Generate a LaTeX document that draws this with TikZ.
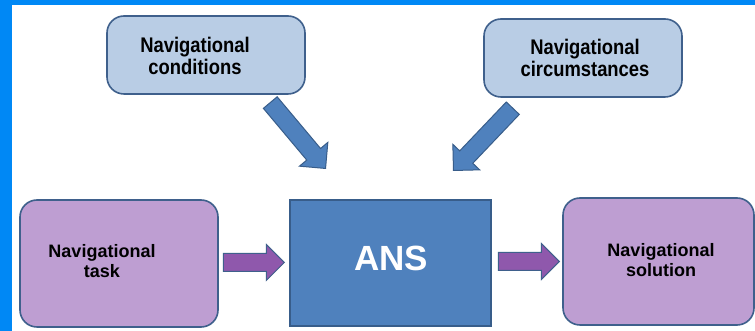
\documentclass[tikz,border=0pt]{standalone}
\usepackage{fontspec}
\setmainfont{Liberation Sans}
\usetikzlibrary{shapes.arrows}
\definecolor{frameblue}{RGB}{0,136,245}
\definecolor{lightfill}{RGB}{185,205,229}
\definecolor{purplefill}{RGB}{190,158,210}
\definecolor{boxline}{RGB}{63,96,140}
\definecolor{ansfill}{RGB}{79,129,189}
\definecolor{ansline}{RGB}{56,93,138}
\definecolor{parrow}{RGB}{143,88,172}
\tikzset{
  lightbox/.style={draw=boxline, line width=1.6pt, fill=lightfill, rounded corners=17pt, inner sep=0pt},
  purplebox/.style={draw=boxline, line width=1.6pt, fill=purplefill, rounded corners=17pt, inner sep=0pt},
  ansbox/.style={draw=ansline, line width=1.4pt, fill=ansfill, inner sep=0pt},
  toptext/.style={font=\bfseries\fontsize{18.4}{18.6}\selectfont, align=center, yscale=1.15, transform shape, inner sep=0pt},
  bottext/.style={font=\bfseries\fontsize{18}{20}\selectfont, align=center, inner sep=0pt},
  purplearrow/.style={single arrow, draw=boxline, line width=1pt, fill=parrow, inner xsep=0pt, inner ysep=8.5pt,
    single arrow head extend=9pt, minimum height=61pt, single arrow tip angle=90, anchor=tip},
  bluearrow/.style={single arrow, draw=ansline, line width=1pt, fill=ansfill, inner xsep=0pt, inner ysep=8.5pt,
    single arrow head extend=9.5pt, minimum height=86pt, single arrow tip angle=90, anchor=tip}
}
\begin{document}
\begin{tikzpicture}[x=1pt,y=1pt]
\useasboundingbox (0,0) rectangle (755,331);
\fill[white] (0,0) rectangle (755,331);
\fill[frameblue] (0,326) rectangle (755,331);
\fill[frameblue] (0,0) rectangle (12,331);

\node[lightbox, minimum width=198pt, minimum height=78pt] (cond) at (206,276) {};
\node[toptext] (condt) at (195,275) {Navigational\\conditions};

\node[lightbox, minimum width=198pt, minimum height=78pt] (circ) at (583,273) {};
\node[toptext] (circt) at (585,273) {Navigational\\circumstances};

\node[purplebox, minimum width=198pt, minimum height=127pt] (task) at (119,67.5) {};
\node[bottext] (taskt) at (102,70) {Navigational\\task};

\node[ansbox, minimum width=201pt, minimum height=126pt] (ans) at (390.5,68) {};
\node[font=\bfseries\fontsize{35}{38}\selectfont, text=white, inner sep=0pt] (anst) at (391,72.5) {ANS};

\node[purplebox, minimum width=191pt, minimum height=127pt] (sol) at (658.5,69.5) {};
\node[bottext] (solt) at (661,71) {Navigational\\solution};

\node[purplearrow] (a1) at (285,68.5) {};
\node[purplearrow] (a2) at (560,69.5) {};

\node[bluearrow, rotate=-50] (b1) at (326,162) {};
\node[bluearrow, rotate=226.4] (b2) at (453,160) {};
\end{tikzpicture}
\end{document}
